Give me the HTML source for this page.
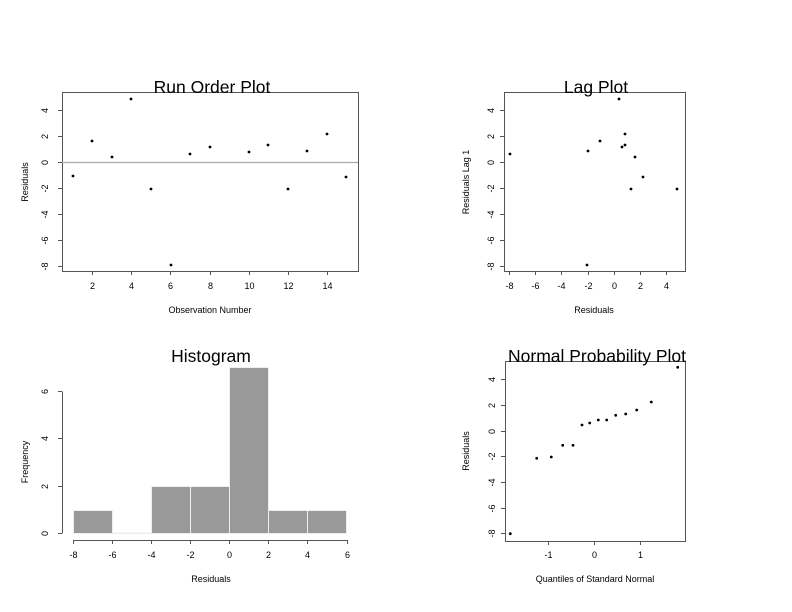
<!DOCTYPE html>
<html><head><style>
html,body{margin:0;padding:0;background:#fff}
svg{display:block}
text{font-family:"Liberation Sans",sans-serif;fill:#000}
.t{font-size:9px}
.ti{font-size:17.5px}
</style></head><body>
<svg width="792" height="612" viewBox="0 0 792 612" xmlns="http://www.w3.org/2000/svg">
<g stroke="#555" stroke-width="1" fill="none">
<rect x="62.5" y="92.5" width="296" height="179"/>
<line x1="62" y1="162.5" x2="358" y2="162.5" stroke="#aaa" stroke-width="1.3"/>
<path d="M62 110.5h-4M62 136.5h-4M62 162.5h-4M62 188.5h-4M62 214.5h-4M62 240.5h-4M62 266.5h-4"/>
<path d="M92.5 271v4M131.5 271v4M170.5 271v4M210.5 271v4M249.5 271v4M288.5 271v4M327.5 271v4"/>
<rect x="504.5" y="92.5" width="181" height="179"/>
<path d="M504 110.5h-4M504 136.5h-4M504 162.5h-4M504 188.5h-4M504 214.5h-4M504 240.5h-4M504 266.5h-4"/>
<path d="M509.5 271v4M535.5 271v4M561.5 271v4M588.5 271v4M614.5 271v4M640.5 271v4M666.5 271v4"/>
<rect x="505.5" y="361.5" width="180" height="180"/>
<path d="M505 379.5h-4M505 405.5h-4M505 431.5h-4M505 456.5h-4M505 482.5h-4M505 508.5h-4M505 533.5h-4"/>
<path d="M548.5 541v4M594.5 541v4M640.5 541v4"/>
<path d="M62.5 391.5V533.5M62 533.5h-4M62 486.5h-4M62 438.5h-4M62 391.5h-4"/>
<path d="M73.5 540.5H347.5M73.5 540v4M112.5 540v4M151.5 540v4M190.5 540v4M229.5 540v4M268.5 540v4M307.5 540v4M347.5 540v4"/>
</g>
<g fill="#999" stroke="#eee" stroke-width="1">
<rect x="73.5" y="510.5" width="39" height="23"/>
<rect x="112.5" y="533" width="39" height="0.5" fill="#eee"/>
<rect x="151.5" y="486.5" width="39" height="47"/>
<rect x="190.5" y="486.5" width="39" height="47"/>
<rect x="229.5" y="367.5" width="39" height="166"/>
<rect x="268.5" y="510.5" width="39" height="23"/>
<rect x="307.5" y="510.5" width="39" height="23"/>
</g>
<g fill="#000">
<circle cx="73" cy="176" r="1.4"/><circle cx="92" cy="141" r="1.4"/><circle cx="112" cy="157" r="1.4"/><circle cx="131" cy="99" r="1.4"/><circle cx="151" cy="189" r="1.4"/><circle cx="171" cy="265" r="1.4"/><circle cx="190" cy="154" r="1.4"/><circle cx="210" cy="147" r="1.4"/><circle cx="249" cy="152" r="1.4"/><circle cx="268" cy="145" r="1.4"/><circle cx="288" cy="189" r="1.4"/><circle cx="307" cy="151" r="1.4"/><circle cx="327" cy="134" r="1.4"/><circle cx="346" cy="177" r="1.4"/>
<circle cx="510" cy="154" r="1.4"/><circle cx="587" cy="265" r="1.4"/><circle cx="588" cy="151" r="1.4"/><circle cx="600" cy="141" r="1.4"/><circle cx="619" cy="99" r="1.4"/><circle cx="625" cy="134" r="1.4"/><circle cx="622" cy="147" r="1.4"/><circle cx="625" cy="145" r="1.4"/><circle cx="635" cy="157" r="1.4"/><circle cx="643" cy="177" r="1.4"/><circle cx="631" cy="189" r="1.4"/><circle cx="677" cy="189" r="1.4"/>
<circle cx="510.3" cy="533.7" r="1.4"/><circle cx="536.7" cy="458.3" r="1.4"/><circle cx="551.3" cy="457" r="1.4"/><circle cx="562.7" cy="445.3" r="1.4"/><circle cx="573" cy="445.3" r="1.4"/><circle cx="582" cy="425" r="1.4"/><circle cx="589.7" cy="423" r="1.4"/><circle cx="598.3" cy="420" r="1.4"/><circle cx="606.7" cy="420" r="1.4"/><circle cx="615.7" cy="415.3" r="1.4"/><circle cx="625.7" cy="414" r="1.4"/><circle cx="636.7" cy="410" r="1.4"/><circle cx="651.3" cy="402" r="1.4"/><circle cx="677.7" cy="367.3" r="1.4"/>
</g>
<text class="ti" x="212" y="93" text-anchor="middle">Run Order Plot</text>
<text class="ti" x="596" y="93" text-anchor="middle">Lag Plot</text>
<text class="ti" x="211" y="362" text-anchor="middle">Histogram</text>
<text class="ti" x="597" y="362" text-anchor="middle">Normal Probability Plot</text>
<g class="t" text-anchor="middle">
<text x="92.5" y="289">2</text><text x="131.5" y="289">4</text><text x="170.5" y="289">6</text><text x="210.5" y="289">8</text><text x="249.5" y="289">10</text><text x="288.5" y="289">12</text><text x="327.5" y="289">14</text>
<text x="509.5" y="289">-8</text><text x="535.5" y="289">-6</text><text x="561.5" y="289">-4</text><text x="588.5" y="289">-2</text><text x="614.5" y="289">0</text><text x="640.5" y="289">2</text><text x="666.5" y="289">4</text>
<text x="73.5" y="558">-8</text><text x="112.5" y="558">-6</text><text x="151.5" y="558">-4</text><text x="190.5" y="558">-2</text><text x="229.5" y="558">0</text><text x="268.5" y="558">2</text><text x="307.5" y="558">4</text><text x="347.5" y="558">6</text>
<text x="548.5" y="558">-1</text><text x="594.5" y="558">0</text><text x="640.5" y="558">1</text>
</g>
<g class="t" text-anchor="middle">
<text transform="translate(48,110.5) rotate(-90)">4</text><text transform="translate(48,136.5) rotate(-90)">2</text><text transform="translate(48,162.5) rotate(-90)">0</text><text transform="translate(48,188.5) rotate(-90)">-2</text><text transform="translate(48,214.5) rotate(-90)">-4</text><text transform="translate(48,240.5) rotate(-90)">-6</text><text transform="translate(48,266.5) rotate(-90)">-8</text>
<text transform="translate(494,110.5) rotate(-90)">4</text><text transform="translate(494,136.5) rotate(-90)">2</text><text transform="translate(494,162.5) rotate(-90)">0</text><text transform="translate(494,188.5) rotate(-90)">-2</text><text transform="translate(494,214.5) rotate(-90)">-4</text><text transform="translate(494,240.5) rotate(-90)">-6</text><text transform="translate(494,266.5) rotate(-90)">-8</text>
<text transform="translate(495,379.5) rotate(-90)">4</text><text transform="translate(495,405.5) rotate(-90)">2</text><text transform="translate(495,431.5) rotate(-90)">0</text><text transform="translate(495,456.5) rotate(-90)">-2</text><text transform="translate(495,482.5) rotate(-90)">-4</text><text transform="translate(495,508.5) rotate(-90)">-6</text><text transform="translate(495,533.5) rotate(-90)">-8</text>
<text transform="translate(48,533.5) rotate(-90)">0</text><text transform="translate(48,486.5) rotate(-90)">2</text><text transform="translate(48,438.5) rotate(-90)">4</text><text transform="translate(48,391.5) rotate(-90)">6</text>
</g>
<g class="t" text-anchor="middle">
<text x="210" y="313">Observation Number</text>
<text x="594" y="313">Residuals</text>
<text x="211" y="582">Residuals</text>
<text x="595" y="582">Quantiles of Standard Normal</text>
<text transform="translate(28,182) rotate(-90)">Residuals</text>
<text transform="translate(469,182) rotate(-90)">Residuals Lag 1</text>
<text transform="translate(28,462) rotate(-90)">Frequency</text>
<text transform="translate(469,451) rotate(-90)">Residuals</text>
</g>
</svg>
</body></html>
